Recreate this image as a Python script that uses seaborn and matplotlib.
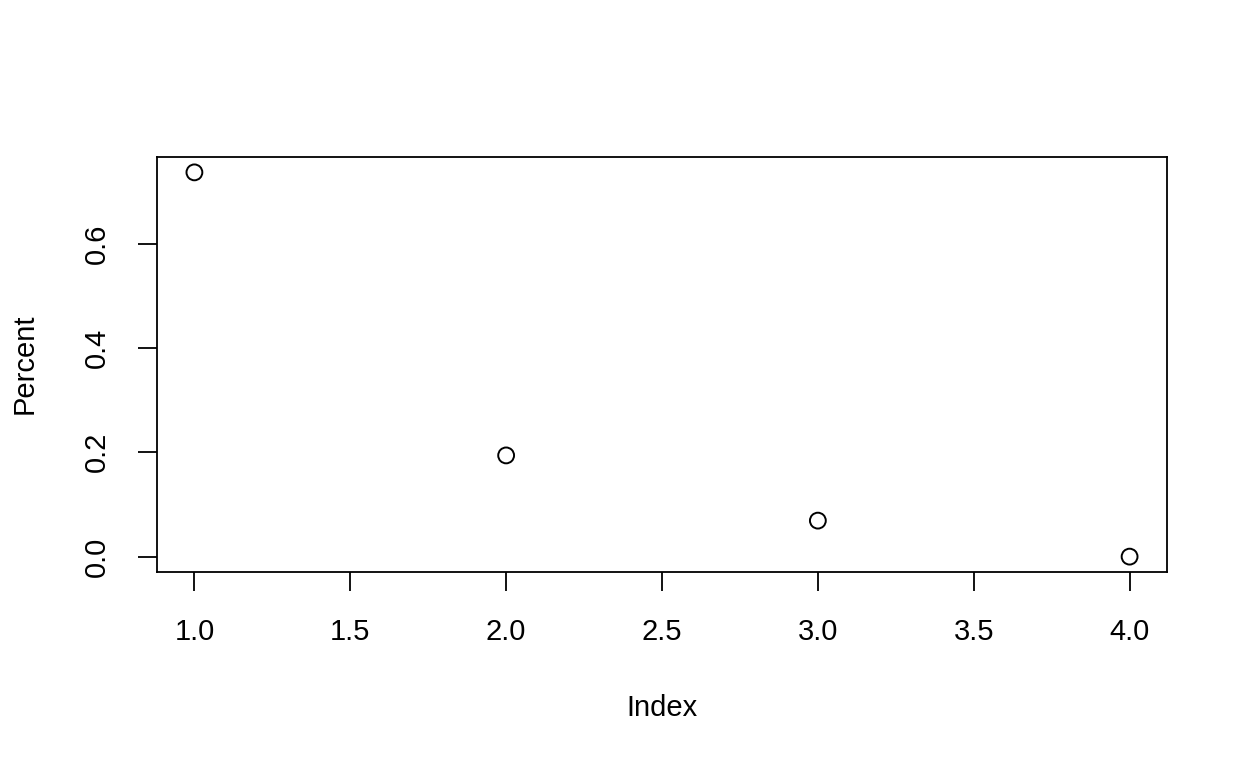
import matplotlib
matplotlib.use("Agg")
import matplotlib.pyplot as plt
import seaborn as sns
import pandas as pd

# values
index = [1, 2, 3, 4]
percent = [0.7365, 0.194, 0.069, 0.0]
x_ticks = [1.0, 1.5, 2.0, 2.5, 3.0, 3.5, 4.0]
y_ticks = [0.0, 0.2, 0.4, 0.6]

sns.set_style("ticks")
plt.rcParams['font.family'] = ['Liberation Sans', 'DejaVu Sans']
plt.rcParams['text.color'] = 'black'
plt.rcParams['axes.labelcolor'] = 'black'
plt.rcParams['xtick.color'] = 'black'
plt.rcParams['ytick.color'] = 'black'

df = pd.DataFrame({'Index': index, 'Percent': percent})

fig = plt.figure(figsize=(12.48, 7.68), dpi=100)
ax = fig.add_axes([157 / 1248, 196 / 768, 1010 / 1248, 415 / 768])

sns.scatterplot(data=df, x='Index', y='Percent', ax=ax, s=130, marker='o',
                facecolor='none', edgecolor='black', linewidth=1.4)

# R-style 4% padding
xr = max(index) - min(index)
yr = max(percent) - min(percent)
ax.set_xlim(min(index) - 0.04 * xr, max(index) + 0.04 * xr)
ax.set_ylim(min(percent) - 0.04 * yr, max(percent) + 0.04 * yr)

ax.set_xticks(x_ticks)
ax.set_xticklabels([f"{t:.1f}" for t in x_ticks])
ax.set_yticks(y_ticks)
ax.set_yticklabels([f"{t:.1f}" for t in y_ticks], rotation=90, va='center')

ax.tick_params(axis='both', length=14, width=1.3, labelsize=21, pad=19,
               color='black', labelcolor='black')
for sp in ax.spines.values():
    sp.set_linewidth(1.3)
    sp.set_color('black')

ax.set_xlabel('Index', fontsize=21, color='black')
ax.set_ylabel('Percent', fontsize=21, color='black')
ax.xaxis.set_label_coords(0.5, -0.3277)
ax.xaxis.label.set_va('center')
ax.yaxis.set_label_coords(-0.1307, 0.501)
ax.yaxis.label.set_va('center')

fig.savefig('out.png', dpi=100)
